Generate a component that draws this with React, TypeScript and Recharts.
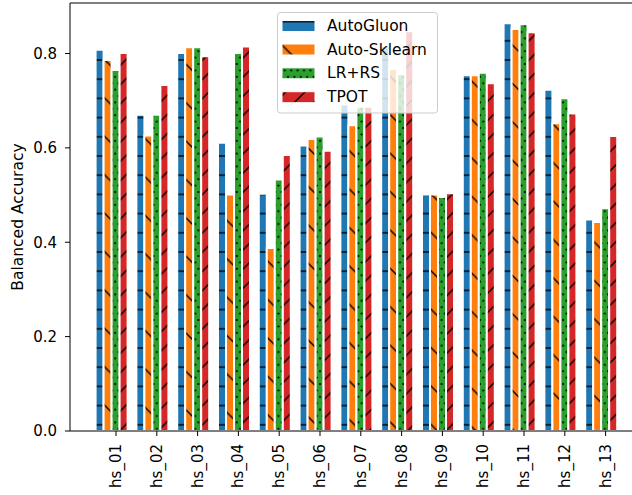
import { Bar, BarChart, Legend, ReferenceLine, XAxis, YAxis } from "recharts";

const categories = [
  "hs_01", "hs_02", "hs_03", "hs_04", "hs_05", "hs_06", "hs_07",
  "hs_08", "hs_09", "hs_10", "hs_11", "hs_12", "hs_13",
];
const autoGluon = [0.808, 0.67, 0.801, 0.611, 0.503, 0.605, 0.692, 0.816, 0.501, 0.754, 0.864, 0.723, 0.448];
const autoSklearn = [0.786, 0.626, 0.813, 0.501, 0.388, 0.619, 0.648, 0.767, 0.501, 0.754, 0.852, 0.652, 0.443];
const lrRs = [0.765, 0.67, 0.813, 0.801, 0.533, 0.624, 0.687, 0.756, 0.496, 0.759, 0.862, 0.705, 0.472];
const tpot = [0.801, 0.733, 0.794, 0.815, 0.585, 0.594, 0.687, 0.847, 0.504, 0.737, 0.845, 0.673, 0.625];
const yTicks = [0, 0.2, 0.4, 0.6, 0.8];
const yMax = 0.907;

const data = categories.map((name, i) => ({
  name,
  autoGluon: autoGluon[i],
  autoSklearn: autoSklearn[i],
  lrRs: lrRs[i],
  tpot: tpot[i],
}));

const series = [
  { key: "autoGluon", name: "AutoGluon", hatch: "blue" },
  { key: "autoSklearn", name: "Auto-Sklearn", hatch: "orange" },
  { key: "lrRs", name: "LR+RS", hatch: "green" },
  { key: "tpot", name: "TPOT", hatch: "red" },
];

const FONT = "'DejaVu Sans', sans-serif";

// matplotlib hatches are anchored to the canvas, so the patterns use page coordinates
function Hatches({ prefix }: { prefix: string }) {
  return (
    <defs>
      <pattern id={`${prefix}blue`} patternUnits="userSpaceOnUse" x={0} y={-7.2} width={20} height={19.2}>
        <rect width={20} height={19.2} fill="#1f77b4" />
        <line x1={0} x2={20} y1={9.6} y2={9.6} stroke="#000" strokeWidth={1.4} />
      </pattern>
      <pattern id={`${prefix}orange`} patternUnits="userSpaceOnUse" x={0} y={31.8} width={38.4} height={38.4}>
        <rect width={38.4} height={38.4} fill="#ff7f0e" />
        <path d="M0,0 L38.4,38.4 M-2,36.4 L2,40.4 M36.4,-2 L40.4,2" stroke="#000" strokeWidth={1.4} />
      </pattern>
      <pattern id={`${prefix}green`} patternUnits="userSpaceOnUse" x={0} y={0} width={6.4} height={12.8}>
        <rect width={6.4} height={12.8} fill="#2ca02c" />
        <circle cx={0} cy={0} r={1.1} fill="#000" />
        <circle cx={6.4} cy={0} r={1.1} fill="#000" />
        <circle cx={0} cy={12.8} r={1.1} fill="#000" />
        <circle cx={6.4} cy={12.8} r={1.1} fill="#000" />
        <circle cx={3.2} cy={6.4} r={1.1} fill="#000" />
      </pattern>
      <pattern id={`${prefix}red`} patternUnits="userSpaceOnUse" x={12.9} y={0} width={19.2} height={19.2}>
        <rect width={19.2} height={19.2} fill="#d62728" />
        <path d="M0,19.2 L19.2,0 M-2,2 L2,-2 M17.2,21.2 L21.2,17.2" stroke="#000" strokeWidth={1.4} />
      </pattern>
    </defs>
  );
}

function XTick({ x, y, payload }: any) {
  return (
    <text
      x={x}
      y={y}
      transform={`rotate(-90, ${x}, ${y})`}
      textAnchor="end"
      dominantBaseline="central"
      fontFamily={FONT}
      fontSize={15}
      fill="#000"
    >
      {payload.value}
    </text>
  );
}

function YTitle({ viewBox }: any) {
  const cx = viewBox.x + 18;
  const cy = viewBox.y + viewBox.height / 2;
  return (
    <text
      x={cx}
      y={cy}
      transform={`rotate(-90, ${cx}, ${cy})`}
      textAnchor="middle"
      dominantBaseline="central"
      fontFamily={FONT}
      fontSize={15.5}
      fill="#000"
    >
      Balanced Accuracy
    </text>
  );
}

function HatchLegend() {
  const rowY = [26, 49.5, 73.3, 97.2];
  return (
    <svg width={632} height={495} style={{ position: "absolute", left: 0, top: 0 }}>
      <Hatches prefix="lg-" />
      <rect x={277.5} y={12.5} width={160} height={100.5} rx={3} fill="#fff" fillOpacity={0.8} stroke="#cccccc" />
      {series.map((s, i) => (
        <g key={s.key}>
          <rect x={282} y={rowY[i] - 5.5} width={33} height={11} fill={`url(#lg-${s.hatch})`} stroke="#fff" strokeWidth={1} />
          <text x={327} y={rowY[i]} dominantBaseline="central" fontFamily={FONT} fontSize={15.5} fill="#000">
            {s.name}
          </text>
        </g>
      ))}
    </svg>
  );
}

export default function App() {
  return (
    <div style={{ position: "absolute", left: 0, top: 0, width: 632, height: 495, overflow: "hidden", background: "#fff" }}>
      <BarChart
        width={660}
        height={495}
        data={data}
        margin={{ top: 3, right: 16, bottom: 0, left: 0 }}
        barCategoryGap={0}
        barGap={0}
      >
        <Hatches prefix="bar-" />
        <XAxis
          dataKey="name"
          interval={0}
          height={64}
          padding={{ left: 25.6, right: 18 }}
          tickSize={5}
          tickMargin={8}
          tick={<XTick />}
          axisLine={{ stroke: "#000" }}
          tickLine={{ stroke: "#000" }}
        />
        <YAxis
          width={70}
          domain={[0, yMax]}
          ticks={yTicks}
          tickFormatter={(v: number) => v.toFixed(1)}
          tickSize={5}
          tickMargin={8}
          tick={{ fill: "#000", fontSize: 15, fontFamily: FONT }}
          axisLine={{ stroke: "#000" }}
          tickLine={{ stroke: "#000" }}
          label={<YTitle />}
        />
        <ReferenceLine y={yMax} stroke="#000" />
        {series.map((s) => (
          <Bar
            key={s.key}
            dataKey={s.key}
            name={s.name}
            fill={`url(#bar-${s.hatch})`}
            stroke="#fff"
            strokeWidth={2}
            isAnimationActive={false}
          />
        ))}
        {/* empty fifth slot so the tick sits on the LR+RS bar, like the original offsets */}
        <Bar dataKey="slot" fill="none" legendType="none" isAnimationActive={false} />
        <Legend
          layout="horizontal"
          verticalAlign="middle"
          align="center"
          width={632}
          height={495}
          wrapperStyle={{ left: 0, top: 0, width: 632, height: 495, pointerEvents: "none" }}
          content={() => <HatchLegend />}
        />
      </BarChart>
    </div>
  );
}
